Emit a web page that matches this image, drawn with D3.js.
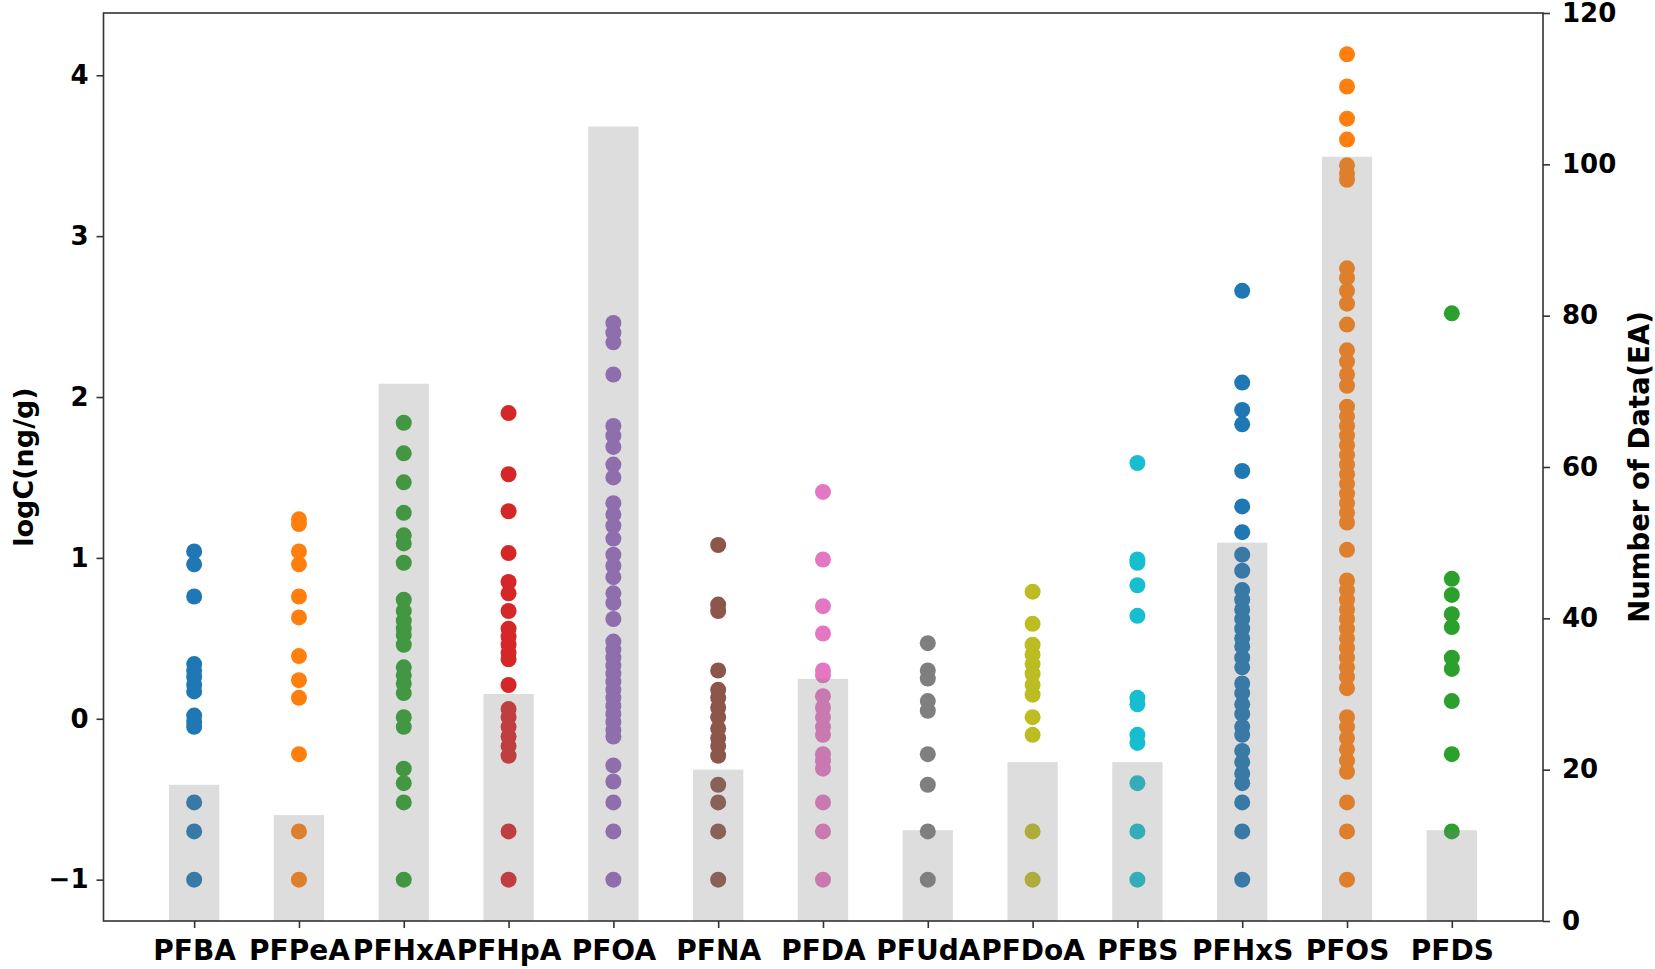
<!DOCTYPE html>
<html>
<head>
<meta charset="utf-8">
<script src="https://cdn.jsdelivr.net/npm/d3@7"></script>
<style>
    body { margin: 0; background: #fff; }
    svg text { font-family: "DejaVu Sans", sans-serif; font-weight: bold; fill: #000; }
    .axis path, .axis line { stroke: #333; stroke-width: 1.6; }
    .spine { fill: none; stroke: #333; stroke-width: 1.6; }
</style>
</head>
<body>
<div id="chart"></div>
<script>

// compounds on the x axis
var compounds = ["PFBA", "PFPeA", "PFHxA", "PFHpA", "PFOA", "PFNA", "PFDA",
    "PFUdA", "PFDoA", "PFBS", "PFHxS", "PFOS", "PFDS"];

// number of data (right axis, grey bars)
var numData = [18, 14, 71, 30, 105, 20, 32, 12, 21, 21, 50, 101, 12];

// matplotlib tab10 cycle
var dotColors = ["#1f77b4", "#ff7f0e", "#2ca02c", "#d62728", "#9467bd", "#8c564b",
    "#e377c2", "#7f7f7f", "#bcbd22", "#17becf", "#1f77b4", "#ff7f0e", "#2ca02c"];

// logC(ng/g) values per compound
var logPFBA = [1.04, 0.96, 0.76, 0.34, 0.30, 0.26, 0.21, 0.17, 0.02, -0.02, -0.05, -0.52, -0.70, -1.0];
var logPFPeA = [1.24, 1.21, 1.04, 0.96, 0.76, 0.63, 0.39, 0.24, 0.13, -0.22, -0.70, -1.0];
var logPFHxA = [1.84, 1.65, 1.47, 1.28, 1.14, 1.09, 0.97, 0.74, 0.67, 0.61, 0.56, 0.52, 0.46,
    0.32, 0.27, 0.22, 0.16, 0.01, -0.05, -0.31, -0.40, -0.52, -1.0];
var logPFHpA = [1.90, 1.52, 1.29, 1.03, 0.85, 0.78, 0.67, 0.56, 0.51, 0.46, 0.41, 0.37, 0.21,
    0.06, 0.01, -0.05, -0.11, -0.17, -0.23, -0.70, -1.0];
var logPFOA = [2.46, 2.40, 2.34, 2.14, 1.82, 1.76, 1.69, 1.58, 1.50, 1.34, 1.27, 1.20, 1.12,
    1.02, 0.95, 0.88, 0.78, 0.72, 0.62, 0.48, 0.43, 0.38, 0.33, 0.28, 0.23, 0.18, 0.13, 0.08,
    0.03, -0.02, -0.07, -0.11, -0.29, -0.39, -0.52, -0.70, -1.0];
var logPFNA = [1.08, 0.71, 0.67, 0.30, 0.18, 0.13, 0.07, 0.01, -0.06, -0.12, -0.17, -0.23,
    -0.41, -0.52, -0.70, -1.0];
var logPFDA = [1.41, 0.99, 0.70, 0.53, 0.30, 0.27, 0.14, 0.07, 0.01, -0.05, -0.10, -0.22,
    -0.26, -0.31, -0.52, -0.70, -1.0];
var logPFUdA = [0.47, 0.30, 0.25, 0.11, 0.05, -0.22, -0.41, -0.70, -1.0];
var logPFDoA = [0.79, 0.59, 0.46, 0.40, 0.34, 0.28, 0.21, 0.15, 0.01, -0.10, -0.70, -1.0];
var logPFBS = [1.59, 0.99, 0.97, 0.83, 0.64, 0.13, 0.09, -0.10, -0.15, -0.40, -0.70, -1.0];
var logPFHxS = [2.66, 2.09, 1.92, 1.83, 1.54, 1.32, 1.16, 1.02, 0.92, 0.80, 0.74, 0.68, 0.62,
    0.56, 0.50, 0.45, 0.38, 0.32, 0.22, 0.16, 0.09, 0.03, -0.05, -0.10, -0.20, -0.27, -0.34,
    -0.40, -0.52, -0.70, -1.0];
var logPFOS = [4.13, 3.93, 3.73, 3.60, 3.44, 3.39, 3.35, 2.80, 2.74, 2.66, 2.58, 2.45, 2.29,
    2.22, 2.14, 2.07, 1.94, 1.88, 1.82, 1.76, 1.70, 1.64, 1.58, 1.52, 1.46, 1.40, 1.34, 1.28,
    1.22, 1.05, 0.86, 0.80, 0.74, 0.68, 0.62, 0.56, 0.50, 0.44, 0.38, 0.32, 0.26, 0.19, 0.01,
    -0.05, -0.12, -0.19, -0.26, -0.33, -0.52, -0.70, -1.0];
var logPFDS = [2.52, 0.87, 0.77, 0.65, 0.57, 0.38, 0.31, 0.11, -0.22, -0.70];

var logValues = [logPFBA, logPFPeA, logPFHxA, logPFHpA, logPFOA, logPFNA, logPFDA,
    logPFUdA, logPFDoA, logPFBS, logPFHxS, logPFOS, logPFDS];

var leftTicks = [-1, 0, 1, 2, 3, 4];
var rightTicks = [0, 20, 40, 60, 80, 100, 120];


// SVG drawing area
var margin = {top: 13, right: 112, bottom: 48, left: 103.5};
var width = 1655 - margin.left - margin.right,
    height = 969 - margin.top - margin.bottom;

var svg = d3.select("#chart").append("svg")
    .attr("width", 1655)
    .attr("height", 969)
    .append("g")
    .attr("transform", "translate(" + margin.left + "," + margin.top + ")");

// Scales
var x = d3.scaleLinear()
    .domain([-0.865, 12.87])
    .range([0, width]);
var yLog = d3.scaleLinear()
    .domain([-1.257, 4.387])
    .range([height, 0]);
var yCount = d3.scaleLinear()
    .domain([0, 120])
    .range([height, 0]);

var barWidth = x(0.48) - x(0);

// flatten dots
var dots = [];
logValues.forEach(function(arr, i) {
    arr.forEach(function(v) { dots.push({i: i, v: v}); });
});

// Dots (first axis)
svg.selectAll(".dot")
    .data(dots)
    .enter()
    .append("circle")
    .attr("class", "dot")
    .attr("cx", function(d) { return x(d.i); })
    .attr("cy", function(d) { return yLog(d.v); })
    .attr("r", 8)
    .attr("fill", function(d) { return dotColors[d.i]; });

// Bars (twin axis, drawn on top)
svg.selectAll(".bar")
    .data(numData)
    .enter()
    .append("rect")
    .attr("class", "bar")
    .attr("x", function(d, i) { return x(i) - barWidth / 2; })
    .attr("width", barWidth)
    .attr("y", function(d) { return yCount(d); })
    .attr("height", function(d) { return height - yCount(d); })
    .attr("fill", "#808080")
    .attr("fill-opacity", 0.27);

// Axes
var xAxis = d3.axisBottom(x)
    .tickValues(d3.range(compounds.length))
    .tickFormat(function(d) { return compounds[d]; })
    .tickSize(7)
    .tickPadding(12);
var yAxisLeft = d3.axisLeft(yLog)
    .tickValues(leftTicks)
    .tickFormat(function(d) { return d < 0 ? "\u2212" + Math.abs(d) : d; })
    .tickSize(7)
    .tickPadding(8);
var yAxisRight = d3.axisRight(yCount)
    .tickValues(rightTicks)
    .tickSize(7)
    .tickPadding(12);

var gx = svg.append("g")
    .attr("class", "axis x-axis")
    .attr("transform", "translate(0," + height + ")")
    .call(xAxis);
gx.selectAll("text").style("font-size", "28px");

var gl = svg.append("g")
    .attr("class", "axis y-axis")
    .call(yAxisLeft);
gl.selectAll("text").style("font-size", "26px");

var gr = svg.append("g")
    .attr("class", "axis y-axis-right")
    .attr("transform", "translate(" + width + ",0)")
    .call(yAxisRight);
gr.selectAll("text").style("font-size", "26px");

svg.selectAll(".axis path.domain").remove();

// frame
svg.append("rect")
    .attr("class", "spine")
    .attr("x", 0)
    .attr("y", 0)
    .attr("width", width)
    .attr("height", height);

// Axis titles
svg.append("text")
    .attr("transform", "translate(" + (-80) + "," + (height / 2) + ") rotate(-90)")
    .attr("text-anchor", "middle")
    .attr("dy", "0.35em")
    .style("font-size", "27px")
    .text("logC(ng/g)");

svg.append("text")
    .attr("transform", "translate(" + (width + 96) + "," + (height / 2) + ") rotate(-90)")
    .attr("text-anchor", "middle")
    .attr("dy", "0.35em")
    .style("font-size", "27.5px")
    .text("Number of Data(EA)");

</script>
</body>
</html>
